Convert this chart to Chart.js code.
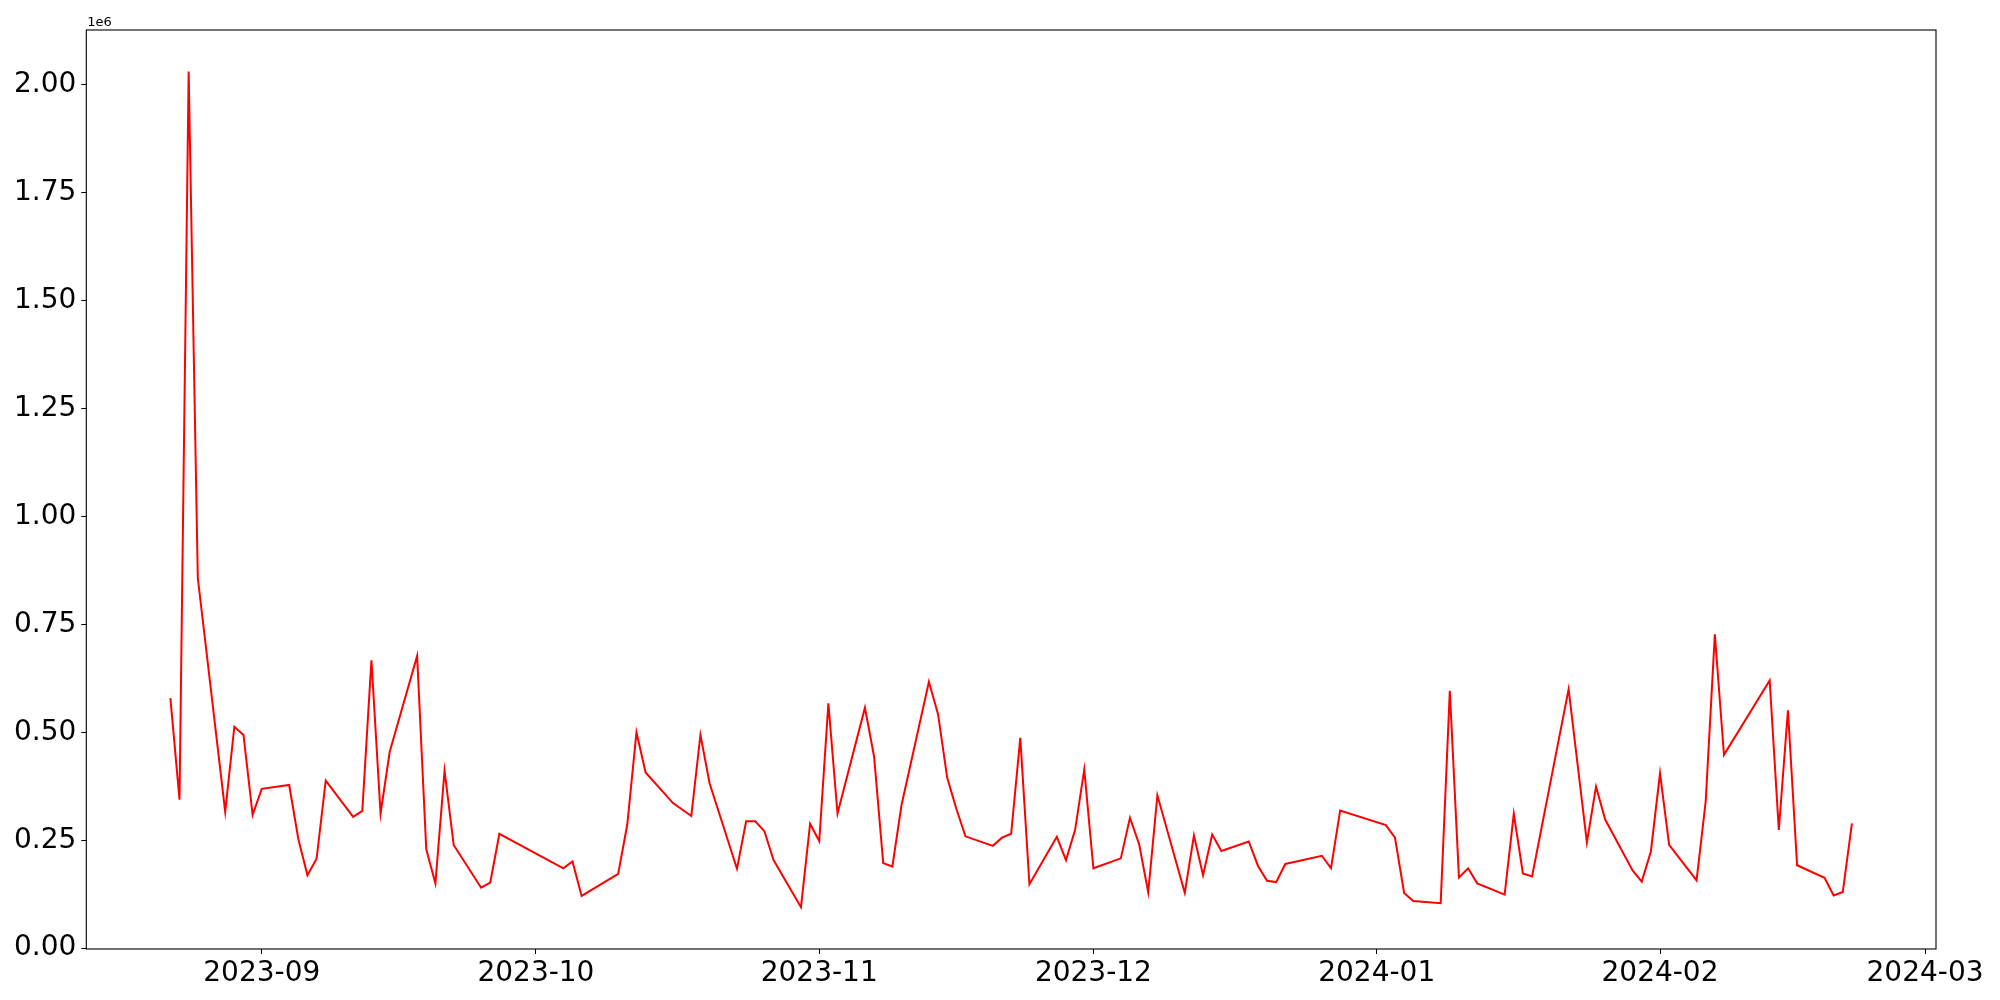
<!DOCTYPE html>
<html>
<head>
<meta charset="utf-8">
<script src="https://cdn.jsdelivr.net/npm/chart.js@4.4.0/dist/chart.umd.min.js"></script>
<style>
    html, body { margin: 0; padding: 0; background: #fff; }
    #wrap { width: 2000px; height: 1000px; }
</style>
</head>
<body>
<div id="wrap"><canvas id="myChart" width="2000" height="1000"></canvas></div>
<script>
const dates = [
    '2023-08-22', '2023-08-23', '2023-08-24', '2023-08-25', '2023-08-28', '2023-08-29', '2023-08-30', '2023-08-31',
    '2023-09-01', '2023-09-04', '2023-09-05', '2023-09-06', '2023-09-07', '2023-09-08', '2023-09-11', '2023-09-12',
    '2023-09-13', '2023-09-14', '2023-09-15', '2023-09-18', '2023-09-19', '2023-09-20', '2023-09-21', '2023-09-22',
    '2023-09-25', '2023-09-26', '2023-09-27', '2023-10-04', '2023-10-05', '2023-10-06', '2023-10-10', '2023-10-11',
    '2023-10-12', '2023-10-13', '2023-10-16', '2023-10-18', '2023-10-19', '2023-10-20', '2023-10-23', '2023-10-24',
    '2023-10-25', '2023-10-26', '2023-10-27', '2023-10-30', '2023-10-31', '2023-11-01', '2023-11-02', '2023-11-03',
    '2023-11-06', '2023-11-07', '2023-11-08', '2023-11-09', '2023-11-10', '2023-11-13', '2023-11-14', '2023-11-15',
    '2023-11-16', '2023-11-17', '2023-11-20', '2023-11-21', '2023-11-22', '2023-11-23', '2023-11-24', '2023-11-27',
    '2023-11-28', '2023-11-29', '2023-11-30', '2023-12-01', '2023-12-04', '2023-12-05', '2023-12-06', '2023-12-07',
    '2023-12-08', '2023-12-11', '2023-12-12', '2023-12-13', '2023-12-14', '2023-12-15', '2023-12-18', '2023-12-19',
    '2023-12-20', '2023-12-21', '2023-12-22', '2023-12-26', '2023-12-27', '2023-12-28', '2024-01-02', '2024-01-03',
    '2024-01-04', '2024-01-05', '2024-01-08', '2024-01-09', '2024-01-10', '2024-01-11', '2024-01-12', '2024-01-15',
    '2024-01-16', '2024-01-17', '2024-01-18', '2024-01-22', '2024-01-23', '2024-01-24', '2024-01-25', '2024-01-26',
    '2024-01-29', '2024-01-30', '2024-01-31', '2024-02-01', '2024-02-02', '2024-02-05', '2024-02-06', '2024-02-07',
    '2024-02-08', '2024-02-13', '2024-02-14', '2024-02-15', '2024-02-16', '2024-02-19', '2024-02-20', '2024-02-21',
    '2024-02-22'
];

const values = [
    579000, 344000, 2031000, 858000, 316000, 513000, 494000, 309000,
    369000, 378000, 253000, 169000, 207000, 388000, 304000, 318000,
    667000, 312000, 455000, 677000, 229000, 150000, 411000, 239000,
    140000, 152000, 265000, 185000, 201000, 121000, 172000, 287000,
    500000, 407000, 336000, 306000, 494000, 382000, 184000, 294000,
    294000, 271000, 204000, 95000, 288000, 248000, 567000, 312000,
    557000, 444000, 197000, 189000, 331000, 617000, 542000, 395000,
    323000, 259000, 237000, 256000, 265000, 487000, 148000, 258000,
    204000, 274000, 414000, 185000, 208000, 302000, 241000, 129000,
    354000, 128000, 261000, 169000, 263000, 225000, 247000, 191000,
    156000, 153000, 195000, 214000, 185000, 319000, 285000, 256000,
    128000, 109000, 104000, 596000, 164000, 185000, 150000, 124000,
    311000, 173000, 166000, 600000, 422000, 245000, 374000, 298000,
    180000, 154000, 224000, 405000, 239000, 157000, 340000, 727000,
    448000, 620000, 274000, 551000, 192000, 163000, 122000, 130000,
    289000
];

const monthTicks = ['2023-09', '2023-10', '2023-11', '2023-12', '2024-01', '2024-02', '2024-03'];
const yTicks = [0, 250000, 500000, 750000, 1000000, 1250000, 1500000, 1750000, 2000000];

function toTime(s) {
    const p = s.split('-').map(Number);
    return Date.UTC(p[0], p[1] - 1, p[2] || 1);
}

function monthLabel(t) {
    const d = new Date(t);
    return d.getUTCFullYear() + '-' + String(d.getUTCMonth() + 1).padStart(2, '0');
}

const first = toTime(dates[0]);
const last = toTime(dates[dates.length - 1]);
const span = last - first;

Chart.defaults.font.family = 'DejaVu Sans';
Chart.defaults.color = '#000';

// frame round the plot + the "1e6" offset label
const framePlugin = {
    id: 'frame',
    afterDraw(chart) {
        const a = chart.chartArea;
        const c = chart.ctx;
        c.save();
        c.strokeStyle = '#000';
        c.lineWidth = 1.1;
        c.strokeRect(a.left, a.top, a.right - a.left, a.bottom - a.top);
        c.fillStyle = '#000';
        c.font = '13px "DejaVu Sans"';
        c.textAlign = 'left';
        c.textBaseline = 'alphabetic';
        c.fillText('1e6', a.left + 1, a.top - 4);
        c.restore();
    }
};

const ctx = document.getElementById('myChart').getContext('2d');

new Chart(ctx, {
    type: 'line',
    data: {
        datasets: [{
            data: dates.map((d, i) => ({ x: toTime(d), y: values[i] })),
            borderColor: '#ff0000',
            borderWidth: 2,
            pointRadius: 0,
            tension: 0,
            fill: false
        }]
    },
    options: {
        responsive: false,
        animation: false,
        layout: {
            padding: { left: 0, top: 30, right: 64, bottom: 0 }
        },
        plugins: {
            legend: { display: false },
            tooltip: { enabled: false }
        },
        scales: {
            x: {
                type: 'linear',
                min: first - 0.05 * span,
                max: last + 0.05 * span,
                afterBuildTicks: function (scale) {
                    scale.ticks = monthTicks.map(m => ({ value: toTime(m) }));
                },
                afterFit: function (scale) {
                    scale.height = 51;
                },
                ticks: {
                    autoSkip: false,
                    maxRotation: 0,
                    minRotation: 0,
                    padding: 3,
                    font: { size: 28 },
                    callback: function (value) {
                        return monthLabel(value);
                    }
                },
                grid: {
                    drawOnChartArea: false,
                    drawTicks: true,
                    tickLength: 5,
                    color: '#000'
                },
                border: { display: false }
            },
            y: {
                min: -2000,
                max: 2127000,
                afterBuildTicks: function (scale) {
                    scale.ticks = yTicks.map(v => ({ value: v }));
                },
                afterFit: function (scale) {
                    scale.width = 86.3;
                },
                ticks: {
                    autoSkip: false,
                    padding: 5,
                    font: { size: 28 },
                    callback: function (value) {
                        return (value / 1e6).toFixed(2);
                    }
                },
                grid: {
                    drawOnChartArea: false,
                    drawTicks: true,
                    tickLength: 5,
                    color: '#000'
                },
                border: { display: false }
            }
        }
    },
    plugins: [framePlugin]
});
</script>
</body>
</html>
